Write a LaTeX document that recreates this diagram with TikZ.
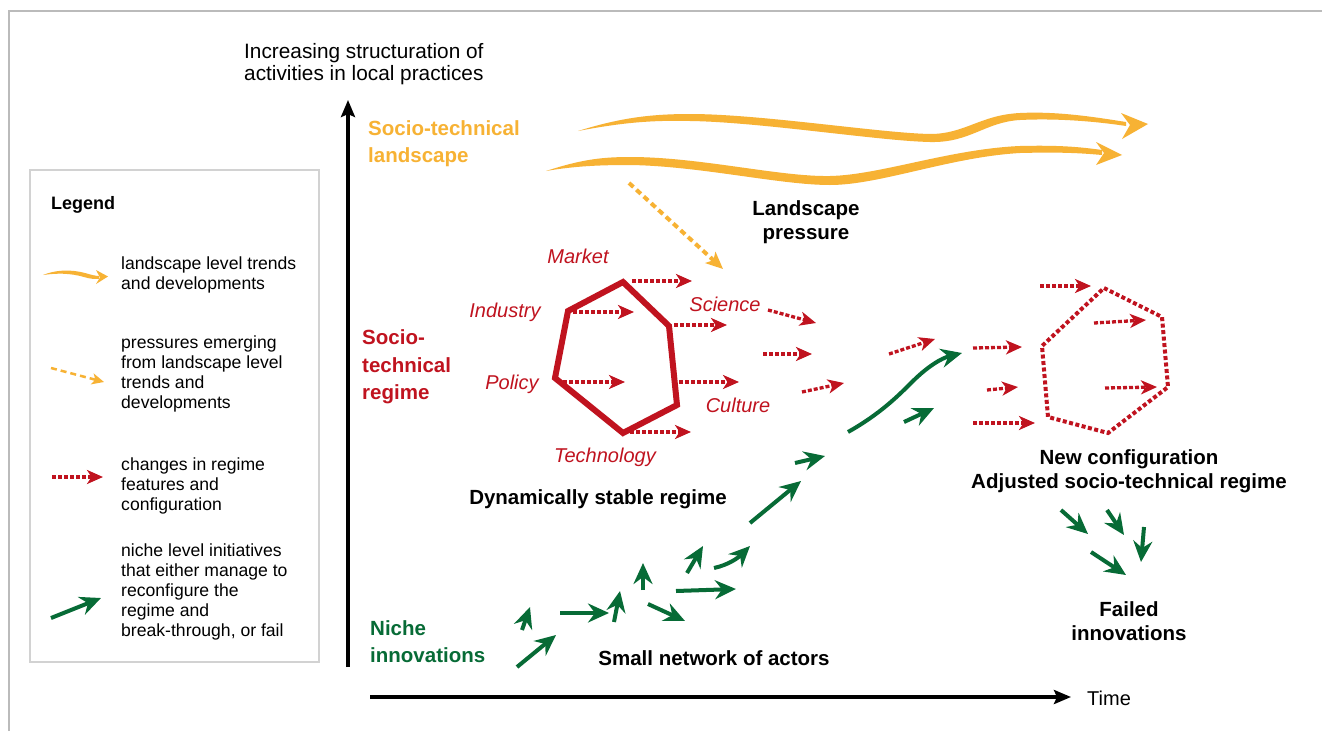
\documentclass[tikz,border=0pt]{standalone}
\usepackage{fontspec}
\setmainfont{Liberation Sans}
\usetikzlibrary{arrows.meta}
\definecolor{lorange}{HTML}{F7B234}
\definecolor{rred}{HTML}{C0131F}
\definecolor{ngreen}{HTML}{076B36}
\definecolor{framegray}{HTML}{BBBBBB}
\definecolor{legendgray}{HTML}{D2D2D2}
\tikzset{
  redarr/.style={draw=rred, line width=3.3pt, dash pattern=on 4pt off 2pt, -{Stealth[length=16pt,width=14pt,inset=4.5pt]}},
  greenarr/.style={draw=ngreen, line width=4pt, -{Stealth[length=21pt,width=19pt,inset=7pt]}},
  orangedash/.style={draw=lorange, line width=4pt, dash pattern=on 6pt off 4pt, -{Stealth[length=17pt,width=15pt,inset=4pt]}},
  axisarr/.style={draw=black, line width=3.5pt, -{Stealth[length=17pt,width=14pt,inset=3pt]}},
  txt/.style={inner sep=0pt, text=black},
  legtxt/.style={txt, anchor=west, align=left, font=\fontsize{17.6}{20}\selectfont},
  boldlbl/.style={inner sep=0pt, align=center, font=\fontsize{20.5}{24.5}\selectfont\bfseries},
  levellbl/.style={inner sep=0pt, anchor=west, align=left, font=\fontsize{20.5}{27.3}\selectfont\bfseries},
  featlbl/.style={inner sep=0pt, text=rred, font=\fontsize{20}{24}\selectfont\itshape},
}
\begin{document}
\begin{tikzpicture}[x=1pt,y=-1pt]
\useasboundingbox (0,0) rectangle (1322,731);
\fill[white] (0,0) rectangle (1322,731);
\draw[framegray, line width=2.5pt] (9,731) -- (9,11) -- (1322,11);

% ---------- legend ----------
\draw[legendgray, line width=1.5pt, fill=white] (30,170) rectangle (319,662);
\node[txt, anchor=west, font=\fontsize{18}{20}\selectfont\bfseries] (legtitle) at (51,205) {Legend};
% landscape trend sample
\fill[lorange] (43,275) .. controls (55,270) and (70,269) .. (85,273) .. controls (92,275) and (96,276) .. (99,276)
  -- (99,279) .. controls (95,279) and (90,279) .. (84,277) .. controls (70,273) and (57,273) .. (43,275) -- cycle;
\fill[lorange] (108,276.5) -- (96,270) -- (100,277.5) -- (96,284) -- cycle;
\node[legtxt] (leg1) at (121,275) {landscape level trends\\and developments};
% pressure sample
\coordinate (l2a) at (51,368); \coordinate (l2b) at (104,382);
\draw[orangedash, line width=2.5pt, dash pattern=on 6pt off 4pt, -{Stealth[length=12pt,width=11pt,inset=3pt]}] (l2a) -- (l2b);
\node[legtxt] (leg2) at (121,374) {pressures emerging\\from landscape level\\trends and\\developments};
% regime change sample
\coordinate (l3a) at (52,477); \coordinate (l3b) at (103,477);
\draw[redarr] (l3a) -- (l3b);
\node[legtxt] (leg3) at (121,486) {changes in regime\\features and\\configuration};
% niche sample
\coordinate (l4a) at (51,618); \coordinate (l4b) at (101,598);
\draw[greenarr] (l4a) -- (l4b);
\node[legtxt] (leg4) at (121,592) {niche level initiatives\\that either manage to\\reconfigure the\\regime and\\break-through, or fail};

% ---------- axes ----------
\coordinate (yax0) at (348,667); \coordinate (yax1) at (348,100);
\draw[axisarr] (yax0) -- (yax1);
\coordinate (xax0) at (370,697); \coordinate (xax1) at (1071,697);
\draw[axisarr] (xax0) -- (xax1);
\node[txt, anchor=west, font=\fontsize{20}{22}\selectfont] (time) at (1087,698) {Time};
\node[txt, anchor=west, align=left, font=\fontsize{20.8}{22}\selectfont] (ylabel) at (244,64) {Increasing structuration of\\activities in local practices};

% ---------- level labels ----------
\node[levellbl, text=lorange] (land) at (368,144) {Socio-technical\\landscape};
\node[levellbl, text=rred] (regime) at (362,367) {Socio-\\technical\\regime};
\node[levellbl, text=ngreen] (niche) at (370,642) {Niche\\innovations};

% ---------- landscape arrows ----------
\fill[lorange] (578,131) .. controls (620,118) and (650,114) .. (690,114)
  .. controls (760,114) and (880,133) .. (930,134)
  .. controls (965,134) and (980,115) .. (1020,113)
  .. controls (1060,111) and (1100,118) .. (1126,122)
  -- (1126,126) .. controls (1100,122) and (1060,118) .. (1020,120)
  .. controls (985,122) and (970,143) .. (930,142)
  .. controls (880,141) and (760,122) .. (690,121)
  .. controls (650,120) and (620,123) .. (578,131) -- cycle;
\fill[lorange] (1148,124) -- (1121,113) -- (1130,125) -- (1122,139) -- cycle;
\fill[lorange] (546,171) .. controls (580,160) and (600,157) .. (630,157)
  .. controls (700,157) and (780,177) .. (830,176)
  .. controls (880,175) and (950,149) .. (1020,146)
  .. controls (1060,145) and (1080,147) .. (1102,150)
  -- (1102,155) .. controls (1080,153) and (1060,152) .. (1020,153)
  .. controls (950,157) and (880,185) .. (830,185)
  .. controls (780,185) and (700,166) .. (630,165)
  .. controls (600,165) and (575,166) .. (546,171) -- cycle;
\fill[lorange] (1122,155) -- (1096,142) -- (1104,153) -- (1096,165) -- cycle;
\node[boldlbl] (lp) at (806,222) {Landscape\\pressure};
\coordinate (lpa) at (629,183); \coordinate (lpb) at (723,269);
\draw[orangedash] (lpa) -- (lpb);

% ---------- current regime ----------
\coordinate (h1) at (623,282); \coordinate (h2) at (669,326); \coordinate (h3) at (677,405);
\coordinate (h4) at (623,433); \coordinate (h5) at (555,378); \coordinate (h6) at (568,311);
\draw[rred, line width=6pt, line join=miter] (h1) -- (h2) -- (h3) -- (h4) -- (h5) -- (h6) -- cycle;
\node[featlbl] (market) at (578,256) {Market};
\node[featlbl] (industry) at (505,312) {Industry};
\node[featlbl] (science) at (725,304) {Science};
\node[featlbl] (policy) at (512,384) {Policy};
\node[featlbl] (culture) at (738,405) {Culture};
\node[featlbl] (techn) at (605,457) {Technology};
\draw[redarr] (632,281) -- (692,281);
\draw[redarr] (573,312) -- (634,312);
\draw[redarr] (674,325) -- (727,325);
\draw[redarr] (563,382) -- (625,382);
\draw[redarr] (679,382) -- (739,382);
\draw[redarr] (630,432) -- (691,432);
\draw[redarr] (768,310) -- (816,323);
\draw[redarr] (763,354) -- (812,354);
\draw[redarr] (802,392) -- (844,383);
\node[boldlbl] (stable) at (598,499) {Dynamically stable regime};

% ---------- new regime ----------
\coordinate (n1) at (1104,288); \coordinate (n2) at (1162,317); \coordinate (n3) at (1168,387);
\coordinate (n4) at (1108,433); \coordinate (n5) at (1048,417); \coordinate (n6) at (1042,346);
\draw[rred, line width=4pt, dash pattern=on 4pt off 2.5pt] (n1) -- (n2) -- (n3) -- (n4) -- (n5) -- (n6) -- cycle;
\draw[redarr] (1040,286) -- (1091,286);
\draw[redarr] (1094,323) -- (1146,320);
\draw[redarr] (1105,388) -- (1157,387);
\draw[redarr] (889,354) -- (935,339);
\draw[redarr] (973,348) -- (1022,347);
\draw[redarr] (987,390) -- (1018,387);
\draw[redarr] (973,423) -- (1035,423);
\node[boldlbl] (newconf) at (1129,471) {New configuration\\Adjusted socio-technical regime};

% ---------- niche arrows ----------
\draw[greenarr] (848,432) .. controls (880,414) and (898,396) .. (912,382) .. controls (928,366) and (942,358) .. (962,353);
\draw[greenarr] (904,422) -- (934,408);
\draw[greenarr] (795,463) -- (825,456);
\draw[greenarr] (750,523) -- (801,481);
\draw[greenarr] (714,568) .. controls (728,565) and (738,558) .. (750,546);
\draw[greenarr] (687,573) -- (703,546);
\draw[greenarr] (676,591) -- (736,589);
\draw[greenarr] (643,590) -- (643,563);
\draw[greenarr] (648,604) -- (685,621);
\draw[greenarr] (614,622) -- (620,591);
\draw[greenarr] (560,613) -- (609,613);
\draw[greenarr] (522,630) -- (530,607);
\draw[greenarr] (517,667) -- (556,635);
\node[boldlbl] (small) at (714,658) {Small network of actors};

% ---------- failed ----------
\draw[greenarr] (1061,510) -- (1088,534);
\draw[greenarr] (1107,510) -- (1124,535);
\draw[greenarr] (1144,527) -- (1141,562);
\draw[greenarr] (1091,552) -- (1126,575);
\node[boldlbl] (failed) at (1129,621) {Failed\\innovations};
\end{tikzpicture}
\end{document}
